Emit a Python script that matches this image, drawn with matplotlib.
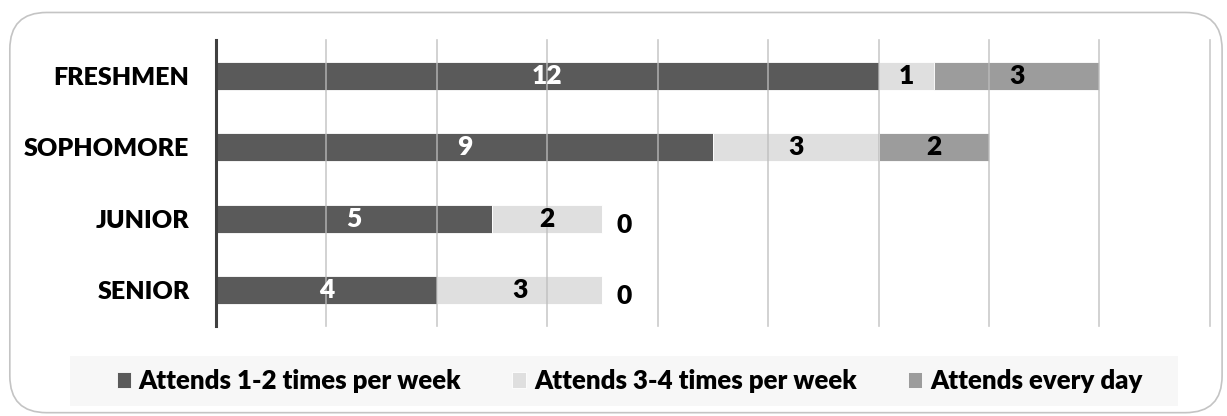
import matplotlib
matplotlib.use("Agg")
import matplotlib.pyplot as plt
from matplotlib.patches import FancyBboxPatch, Rectangle
import numpy as np

plt.rcParams['font.family'] = ['Lato', 'DejaVu Sans']

classes = ["FRESHMEN", "SOPHOMORE", "JUNIOR", "SENIOR"]
series_names = ["Attends 1-2 times per week", "Attends 3-4 times per week", "Attends every day"]
once_twice = [12, 9, 5, 4]
three_four = [1, 3, 2, 3]
every_day = [3, 2, 0, 0]

colors = ["#5a5a5a", "#dfdfdf", "#9c9c9c"]
label_colors = ["white", "black", "black"]

fig = plt.figure(figsize=(12.27, 4.16), dpi=100)
ax = fig.add_axes([0.176, 0.216, 0.810, 0.688])

# rounded chart border
fig.patches.append(FancyBboxPatch((0.008, 0.008), 0.988, 0.962,
                                  boxstyle="round,pad=0,rounding_size=0.03",
                                  transform=fig.transFigure, facecolor="none",
                                  edgecolor="#c4c4c4", linewidth=1.2,
                                  mutation_aspect=12.27 / 4.16))
# legend band
fig.patches.append(Rectangle((0.057, 0.024), 0.903, 0.12,
                             transform=fig.transFigure, facecolor="#f7f7f7",
                             edgecolor="none"))

y = np.arange(len(classes))
left = np.zeros(len(classes))
for vals, name, col, tcol in zip([once_twice, three_four, every_day],
                                 series_names, colors, label_colors):
    vals = np.array(vals, dtype=float)
    ax.barh(y, vals, left=left, height=0.39, color=col,
            edgecolor="white", linewidth=0.6, label=name, zorder=2)
    for yi, l, v in zip(y, left, vals):
        if v > 0:
            ax.text(l + v / 2, yi, f"{int(v)}", ha="center", va="center",
                    color=tcol, fontsize=19, fontweight="heavy", zorder=4)
        else:
            ax.text(l + 0.4, yi + 0.08, f"{int(v)}", ha="center", va="center",
                    color="black", fontsize=19, fontweight="heavy", zorder=4)
    left = left + vals

ax.set_xlim(0, 18)
ax.set_ylim(3.5, -0.5)
ax.set_xticks(np.arange(0, 19, 2))
ax.set_xticklabels([])
ax.tick_params(axis="x", length=0)
ax.tick_params(axis="y", length=0, pad=19)
ax.set_yticks(y)
ax.set_yticklabels(classes, fontsize=18, fontweight="heavy")
ax.grid(axis="x", color="#bdbdbd", linewidth=1.2, alpha=0.8, zorder=3)
for gl in ax.get_xgridlines():
    gl.set_clip_on(False)
ax.set_axisbelow(False)
for s in ["top", "right", "bottom"]:
    ax.spines[s].set_visible(False)
ax.spines["left"].set_color("#404040")
ax.spines["left"].set_linewidth(2.2)
ax.spines["left"].set_zorder(5)

fig.legend(loc="center", bbox_to_anchor=(0.513, 0.084), ncol=3, frameon=False,
           prop={"size": 18.5, "weight": "heavy"},
           handlelength=0.55, handleheight=0.55, handletextpad=0.3,
           columnspacing=2.0)

fig.savefig("out.png", dpi=100)
